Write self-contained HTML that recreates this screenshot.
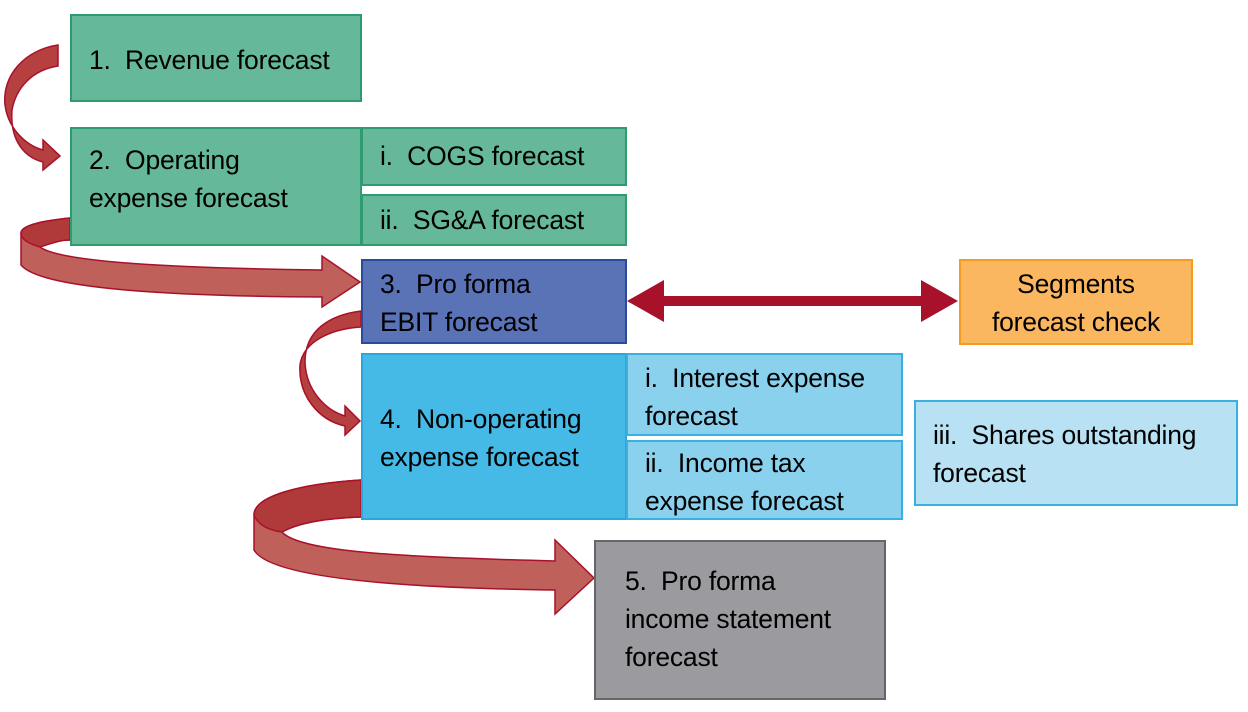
<!DOCTYPE html>
<html><head><meta charset="utf-8"><style>
body{margin:0;width:1248px;height:712px;background:#fff;position:relative;overflow:hidden;font-family:"Liberation Sans",sans-serif;}
.b{position:absolute;box-sizing:border-box;border:2px solid;font-size:26.5px;line-height:38px;color:#000;letter-spacing:-0.2px;padding-left:17px;white-space:nowrap;}
.g{background:#65b99a;border-color:#2e9c6e;}
svg{position:absolute;left:0;top:0;}
</style></head><body>
<svg width="1248" height="712">
<g stroke="#a8112a" stroke-width="1.5">
<path d="M58,45 C25,50 2,75 5,105 C8,128 25,145 43,150 L43,140 L60,156 L43,170 L43,162 C20,156 10,135 12,110 C16,88 32,70 58,66 Z" fill="#b5403f"/>
<path d="M70,218 C40,221 21,226 21,233 L21,265 C40,288 160,296 322,297 L322,307 L360,282 L322,256 L322,270 C170,268 60,262 40,247 C45,242 60,240 70,240 Z" fill="#c0605a"/>
<path d="M70,218 C40,221 21,226 21,233 C21,240 30,244 40,247 C55,242 62,240 70,240 Z" fill="#b03a3a"/>
<path d="M361,311 C330,315 305,330 305,362 C306,390 325,410 345,416 L345,406 L360,421 L345,435 L345,426 C318,420 298,395 300,365 C303,342 330,329 361,327 Z" fill="#b5403f"/>
<path d="M361,480 C300,484 254,496 254,515 L254,550 C270,578 400,588 555,590 L555,614 L594,578 L555,540 L555,561 C400,557 300,552 282,532 C300,522 330,518 361,517 Z" fill="#c0605a"/>
<path d="M361,480 C300,484 254,496 254,515 C258,525 268,530 282,532 C300,522 330,518 361,517 Z" fill="#b03a3a"/>
</g>
<g fill="#a8112a">
<rect x="660" y="296" width="265" height="10"/>
<polygon points="627,301 664,280 664,322"/>
<polygon points="958,301 921,280 921,322"/>
</g>
</svg>
<div class="b g" style="left:70px;top:14px;width:292px;height:88px;padding-top:25px;">1.&nbsp; Revenue forecast</div>
<div class="b g" style="left:70px;top:127px;width:292px;height:119px;padding-top:12px;">2.&nbsp; Operating<br>expense forecast</div>
<div class="b g" style="left:361px;top:127px;width:266px;height:59px;padding-top:8px;">i.&nbsp; COGS forecast</div>
<div class="b g" style="left:361px;top:194px;width:266px;height:52px;padding-top:5px;">ii.&nbsp; SG&amp;A forecast</div>
<div class="b" style="left:361px;top:259px;width:266px;height:85px;background:#5a73b7;border-color:#2a4a9c;padding-top:4px;">3.&nbsp; Pro forma<br>EBIT forecast</div>
<div class="b" style="left:959px;top:259px;width:234px;height:86px;background:#fbb660;border-color:#f39c1f;text-align:center;padding:4px 0 0 0;">Segments<br>forecast check</div>
<div class="b" style="left:361px;top:353px;width:266px;height:167px;background:#46bae6;border-color:#2aa8dc;padding-top:45px;">4.&nbsp; Non-operating<br>expense forecast</div>
<div class="b" style="left:626px;top:353px;width:277px;height:83px;background:#8ad1ee;border-color:#3ab0e0;padding-top:4px;">i.&nbsp; Interest expense<br>forecast</div>
<div class="b" style="left:626px;top:440px;width:277px;height:80px;background:#8ad1ee;border-color:#3ab0e0;padding-top:2px;">ii.&nbsp; Income tax<br>expense forecast</div>
<div class="b" style="left:914px;top:400px;width:324px;height:106px;background:#b8e2f4;border-color:#3ab0e0;padding-top:14px;">iii.&nbsp; Shares outstanding<br>forecast</div>
<div class="b" style="left:594px;top:540px;width:292px;height:160px;background:#9b9b9f;border-color:#66666a;padding:20px 0 0 29px;">5.&nbsp; Pro forma<br>income statement<br>forecast</div>
</body></html>
